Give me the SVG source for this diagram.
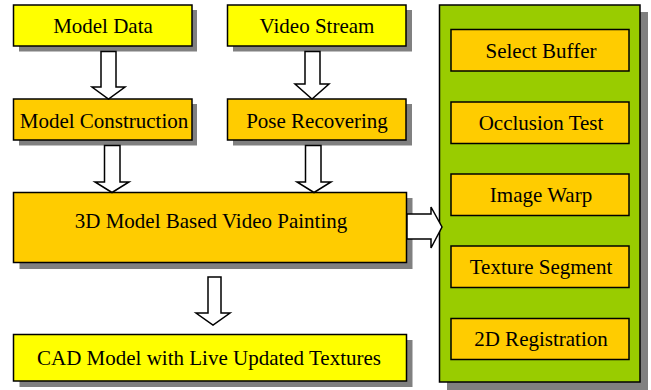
<svg xmlns="http://www.w3.org/2000/svg" width="651" height="390" viewBox="0 0 651 390">
<style>
.sh{fill:#808080;stroke:none}
.y{fill:#FFFF00;stroke:#000;stroke-width:1.5}
.o{fill:#FFCC00;stroke:#000;stroke-width:1.5}
.g{fill:#99CC00;stroke:#000;stroke-width:1.5}
text{font-size:21px;fill:#000;text-anchor:middle}
.a{fill:#fff;stroke:#000;stroke-width:1.5;stroke-linejoin:miter}
</style>
<rect width="651" height="390" fill="#fff"/>
<g id="panel">
<rect class="sh" x="447" y="12" width="201" height="378"/>
<rect class="g" x="439.5" y="5" width="200.5" height="377"/>
</g>
<g font-family="'Liberation Serif', 'Times New Roman', 'DejaVu Serif', serif">
<g id="select-buffer"><rect class="o" x="451" y="29.5" width="178" height="41.5"/><text x="541" y="57.5">Select Buffer</text></g>
<g id="occlusion-test"><rect class="o" x="451" y="102" width="178" height="41.5"/><text x="541" y="130">Occlusion Test</text></g>
<g id="image-warp"><rect class="o" x="451" y="174" width="178" height="41.5"/><text x="541" y="202">Image Warp</text></g>
<g id="texture-segment"><rect class="o" x="451" y="246" width="178" height="41.5"/><text x="541" y="274">Texture Segment</text></g>
<g id="registration"><rect class="o" x="451" y="318.5" width="178" height="41"/><text x="541" y="346">2D Registration</text></g>
<g id="model-data"><rect class="sh" x="19" y="10" width="178" height="41.5"/><rect class="y" x="13.5" y="5" width="178.5" height="41"/><text x="103" y="33">Model Data</text></g>
<g id="video-stream"><rect class="sh" x="233" y="10" width="179" height="41.5"/><rect class="y" x="227.5" y="5" width="178.5" height="41"/><text x="317" y="33">Video Stream</text></g>
<g id="model-construction"><rect class="sh" x="19" y="104" width="178" height="41.5"/><rect class="o" x="13.5" y="99" width="178.5" height="41"/><text x="104" y="127.5">Model Construction</text></g>
<g id="pose-recovering"><rect class="sh" x="233" y="104" width="179" height="41.5"/><rect class="o" x="227.5" y="99" width="178.5" height="41"/><text x="317" y="127.5">Pose Recovering</text></g>
<g id="video-painting"><rect class="sh" x="19.5" y="198" width="393" height="71"/><rect class="o" x="13.5" y="192.5" width="393" height="70"/><text x="211" y="228">3D Model Based Video Painting</text></g>
<g id="cad-model"><rect class="sh" x="19.5" y="340" width="393" height="47"/><rect class="y" x="13.5" y="334.5" width="393" height="46.5"/><text x="209" y="365">CAD Model with Live Updated Textures</text></g>
</g>
<g id="connectors">
<polygon class="a" points="101,51.5 116,51.5 116,87 125,87 108.5,99 92,87 101,87"/>
<polygon class="a" points="305,51.5 320,51.5 320,84 329,84 312,99 295,84 305,84"/>
<polygon class="a" points="104.5,145.5 120,145.5 120,182 129,182 112,192.5 95,182 104.5,182"/>
<polygon class="a" points="305.5,145.5 321,145.5 321,182 331,182 314,192.5 297,182 305.5,182"/>
<polygon class="a" points="208,277 221,277 221,313 230,313 213,325 196,313 208,313"/>
<polygon class="a" points="407,214 431,214 431,207 442,227 431,248 431,239 407,239"/>
</g>
</svg>
